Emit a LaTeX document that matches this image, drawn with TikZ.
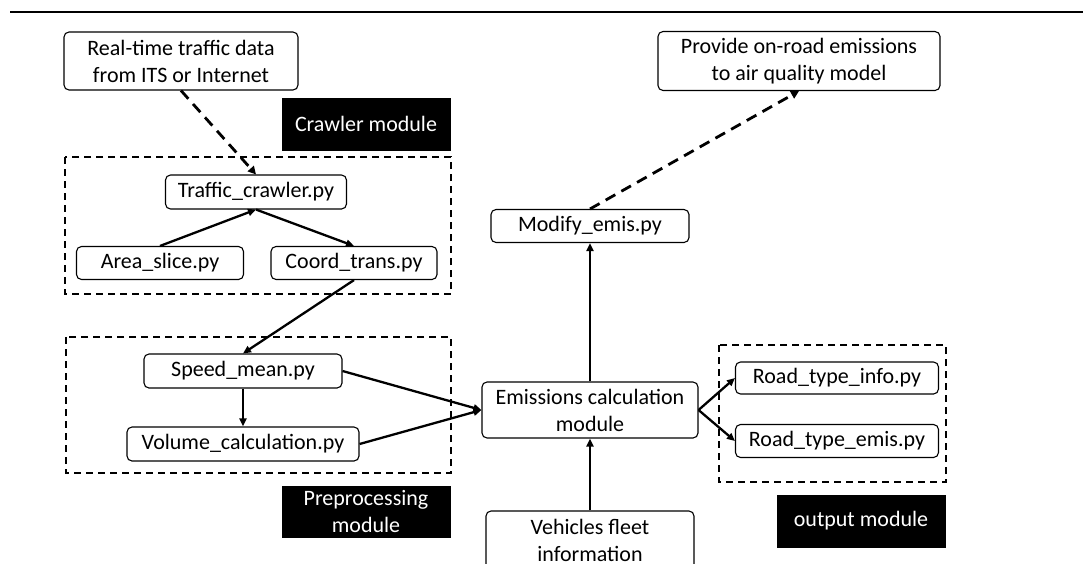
\documentclass[tikz,border=0pt]{standalone}
\usepackage{fontspec}
\setmainfont{Carlito}
\usetikzlibrary{arrows.meta}
\begin{document}
\begin{tikzpicture}[x=1pt,y=-1pt,
  box/.style={draw, rounded corners=5pt, line width=1.1pt, align=center, inner sep=0pt,
    font=\fontsize{22}{27}\selectfont},
  lbl/.style={fill=black, text=white, align=center, inner sep=0pt,
    font=\fontsize{22}{27}\selectfont},
  group/.style={draw, dashed, line width=1.7pt, dash pattern=on 7pt off 5pt},
  arr/.style={line width=2.3pt, -{Triangle[length=8pt,width=7pt]}},
  darr/.style={line width=2.8pt, dash pattern=on 11pt off 7pt, -{Triangle[length=8pt,width=8pt]}}
]
\clip (0,0) rectangle (1083,563);
\fill[white] (0,0) rectangle (1083,563);
\draw[line width=2.5pt] (10,12) -- (1083,12);

% groups
\draw[group] (65,157) rectangle (451,294);
\draw[group] (66,337) rectangle (451,473);
\draw[group] (719,345) rectangle (946,482);

% nodes
\node[box, minimum width=234pt, minimum height=58pt] (top) at (181,61) {Real-time traffic data\\from ITS or Internet};
\node[box, minimum width=282pt, minimum height=59pt] (prov) at (799,61) {Provide on-road emissions\\to air quality model};
\node[lbl, minimum width=169pt, minimum height=53pt] (crawl) at (366,124) {Crawler module};
\node[box, minimum width=181pt, minimum height=34pt] (tc) at (256,192) {Traffic\_crawler.py};
\node[box, minimum width=167pt, minimum height=33pt] (as) at (160,263) {Area\_slice.py};
\node[box, minimum width=166pt, minimum height=33pt] (ct) at (354,263) {Coord\_trans.py};
\node[box, minimum width=198pt, minimum height=34pt] (sm) at (243,371) {Speed\_mean.py};
\node[box, minimum width=232pt, minimum height=34pt] (vc) at (243,444) {Volume\_calculation.py};
\node[lbl, minimum width=169pt, minimum height=52pt] (pre) at (366,512) {Preprocessing\\module};
\node[box, minimum width=216pt, minimum height=56pt] (em) at (590,410) {Emissions calculation\\module};
\node[box, minimum width=198pt, minimum height=33pt] (me) at (590,226) {Modify\_emis.py};
\node[box, minimum width=208pt, minimum height=58pt] (vf) at (590,540) {Vehicles fleet\\information};
\node[box, minimum width=203pt, minimum height=32pt] (rti) at (837,378) {Road\_type\_info.py};
\node[box, minimum width=203pt, minimum height=33pt] (rte) at (837,441) {Road\_type\_emis.py};
\node[lbl, minimum width=169pt, minimum height=53pt] (out) at (861,521) {output module};

% connectors
\draw[darr] (top.south) -- (tc.north);
\draw[darr] (me.north) -- (prov.south);
\draw[arr] (as.north) -- (tc.south);
\draw[arr] (tc.south) -- (ct.north);
\draw[arr] (ct.south) -- (sm.north);
\draw[arr] (sm.south) -- (vc.north);
\draw[arr] (sm.east) -- (em.west);
\draw[arr] (vc.east) -- (em.west);
\draw[arr] (em.north) -- (me.south);
\draw[arr] (vf.north) -- (em.south);
\draw[arr] (em.east) -- (rti.west);
\draw[arr] (em.east) -- (rte.west);
\end{tikzpicture}
\end{document}
